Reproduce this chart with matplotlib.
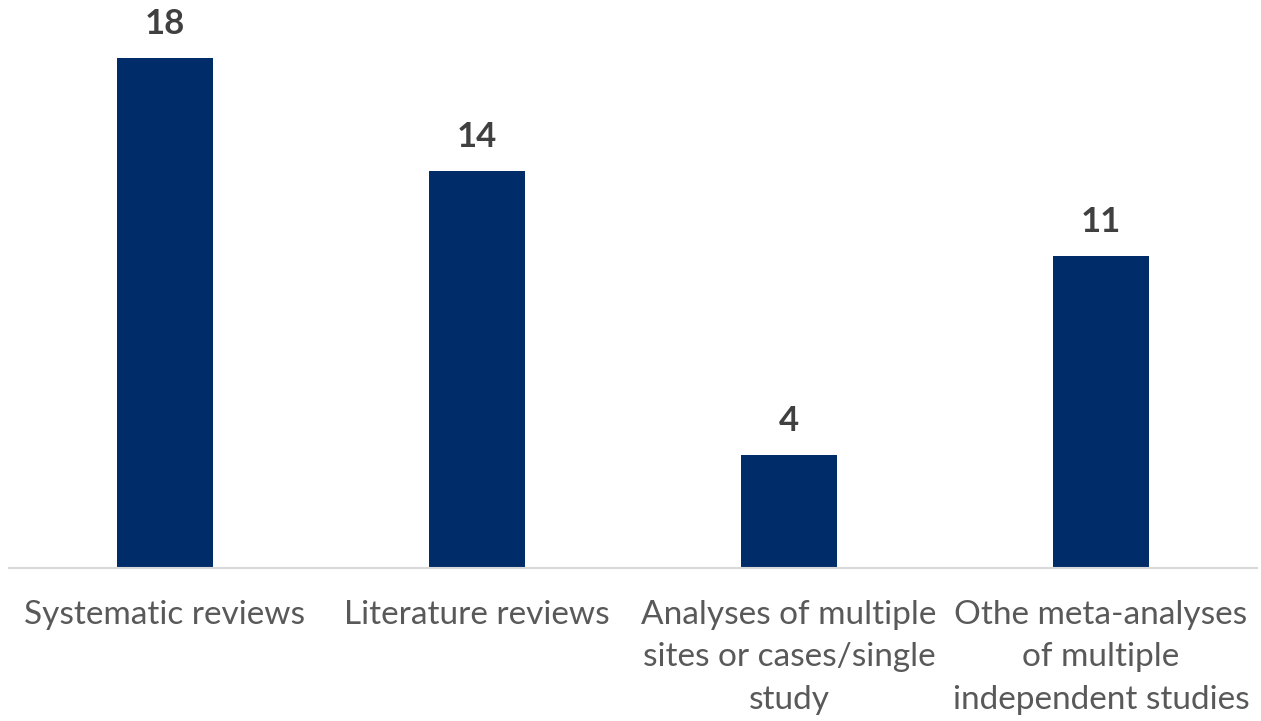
import matplotlib
matplotlib.use("Agg")
import matplotlib.pyplot as plt

categories = ["Systematic reviews", "Literature reviews",
              "Analyses of multiple\nsites or cases/single\nstudy",
              "Othe meta-analyses\nof multiple\nindependent studies"]
values = [18, 14, 4, 11]

plt.rcParams['font.family'] = ['Lato', 'DejaVu Sans']

fig = plt.figure(figsize=(12.61, 7.21), dpi=100)
ax = fig.add_axes([9/1261, (721-568)/721, (1257-9)/1261, 510/721])

x = list(range(len(categories)))
ax.bar(x, values, width=0.31, color="#002D69")
ax.set_xlim(-0.5, len(categories) - 0.5)
ax.set_ylim(0, 18)

for xi, v in zip(x, values):
    ax.annotate(str(v), (xi, v), xytext=(0, 13), textcoords="offset points",
                ha="center", va="bottom", fontsize=25, fontweight="bold",
                color="#404040", annotation_clip=False)

ax.set_xticks(x)
ax.set_xticklabels(categories, fontsize=24, color="#595959", linespacing=1.52)
ax.tick_params(axis="x", length=0, pad=23)
ax.set_yticks([])
for s in ["top", "left", "right"]:
    ax.spines[s].set_visible(False)
ax.spines["bottom"].set_color("#D9D9D9")
ax.spines["bottom"].set_linewidth(1.5)

fig.savefig("out.png", dpi=100)
